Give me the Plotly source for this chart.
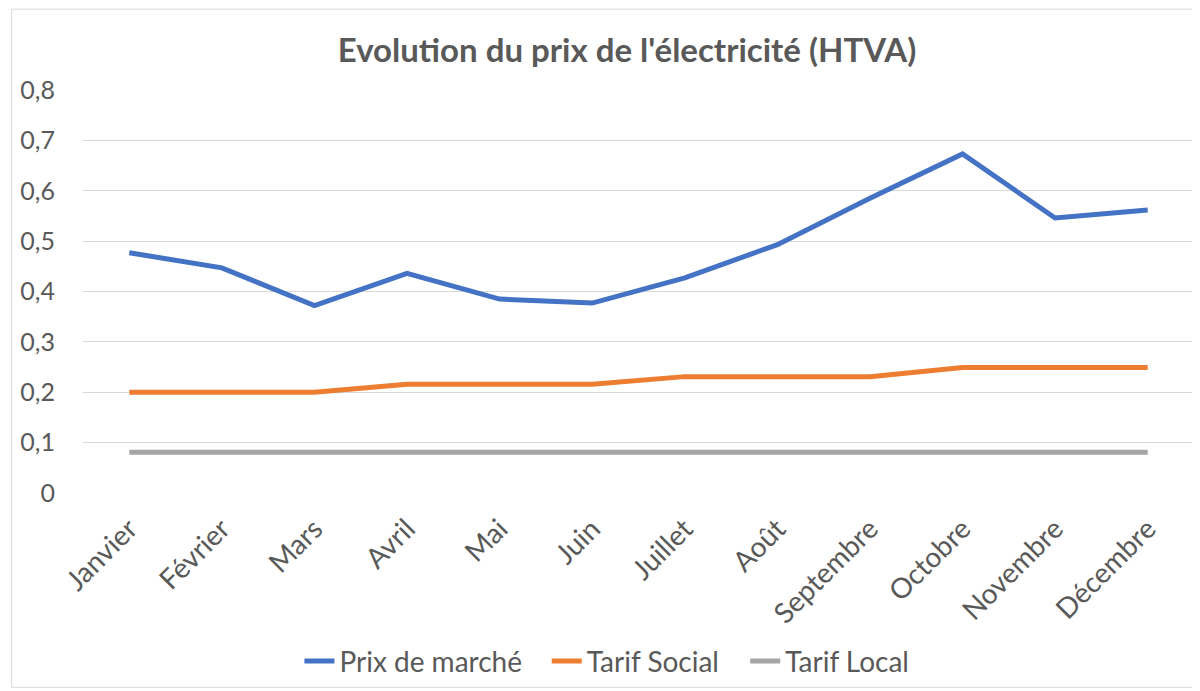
import plotly.graph_objects as go

months = ["Janvier", "Février", "Mars", "Avril", "Mai", "Juin", "Juillet",
          "Août", "Septembre", "Octobre", "Novembre", "Décembre"]
prix_marche = [0.477, 0.447, 0.372, 0.436, 0.385, 0.377, 0.427, 0.493, 0.585, 0.673, 0.546, 0.562]
tarif_social = [0.200, 0.200, 0.200, 0.216, 0.216, 0.216, 0.231, 0.231, 0.231, 0.249, 0.249, 0.249]
tarif_local = [0.081] * 12

series = [
    ("Prix de marché", prix_marche, "#4472C4", "legend"),
    ("Tarif Social", tarif_social, "#ED7D31", "legend2"),
    ("Tarif Local", tarif_local, "#A5A5A5", "legend3"),
]

FONT = "Lato"
GREY = "#595959"

# page body has an 8px margin: figure coords = screen coords - 8
L, T = 72, 81.5
PW, PH = 1114, 403.8
W, H = 1200, 691

fig = go.Figure()
for name, vals, color, leg in series:
    fig.add_trace(go.Scatter(
        x=months, y=vals, name=name, mode="lines",
        line=dict(color=color, width=5), legend=leg,
    ))

legend_y = (T + PH - 654) / PH
legend_common = dict(orientation="h", xanchor="left", y=legend_y, yanchor="middle",
                     font=dict(family=FONT, size=28, color=GREY), itemwidth=30,
                     bgcolor="rgba(0,0,0,0)")

fig.update_layout(
    width=W, height=H,
    paper_bgcolor="white", plot_bgcolor="white",
    separators=", ",
    margin=dict(l=L, r=W - L - PW, t=T, b=H - T - PH),
    title=dict(text="<b>Evolution du prix de l'électricité (HTVA)</b>",
               x=619 / W, xanchor="center", y=1 - 42 / H, yanchor="middle",
               font=dict(family=FONT, size=33, color=GREY)),
    font=dict(family=FONT, color=GREY),
    showlegend=True,
    legend=dict(x=(289 - L) / PW, **legend_common),
    legend2=dict(x=(537 - L) / PW, **legend_common),
    legend3=dict(x=(736 - L) / PW, **legend_common),
    xaxis=dict(
        range=[-0.5, 11.5],
        showgrid=False, zeroline=False, showline=False, ticks="",
        tickangle=-45, tickfont=dict(family=FONT, size=28, color=GREY),
        ticklabelstandoff=13,
    ),
    yaxis=dict(
        range=[0, 0.8], dtick=0.1, tick0=0,
        showgrid=True, gridcolor="#D9D9D9", gridwidth=1,
        zeroline=False, showline=False, ticks="",
        tickfont=dict(family=FONT, size=25, color=GREY),
        ticklabelstandoff=27,
    ),
)

fig.add_shape(type="rect", xref="paper", yref="paper",
              x0=(0.5 - L) / PW, x1=(1189 - L) / PW,
              y0=(T + PH - 680) / PH, y1=(T + PH - 0.5) / PH,
              line=dict(color="#D9D9D9", width=1), fillcolor="rgba(0,0,0,0)", layer="below")

fig.write_html("out.html")
